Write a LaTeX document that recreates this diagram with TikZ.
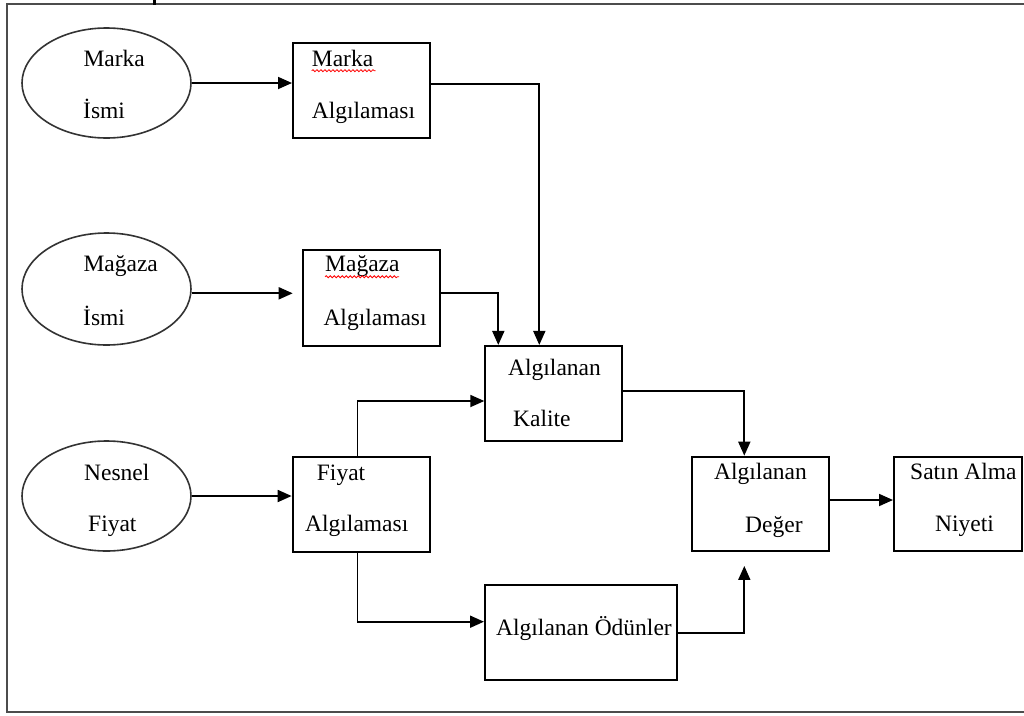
\documentclass[tikz,border=0pt]{standalone}
\usepackage{fontspec}
\setmainfont{Liberation Serif}
\usetikzlibrary{arrows.meta,shapes.geometric,decorations.pathmorphing}
\begin{document}
\begin{tikzpicture}[x=1pt,y=-1pt,
  box/.style={draw=black,line width=2pt,rectangle,inner sep=0pt},
  oval/.style={draw=black!80,line width=1.6pt,ellipse,inner sep=0pt,minimum width=169pt,minimum height=110pt},
  lbl/.style={anchor=base west,inner sep=0pt,font=\fontsize{23.5}{28}\selectfont},
  arr/.style={line width=1.8pt,-{Triangle[length=14pt,width=12pt]}},
  spell/.style={draw=red,line width=0.8pt,decorate,decoration={snake,segment length=4pt,amplitude=1pt}},
  frame/.style={draw=black!70,line width=2.2pt}]
\useasboundingbox (0,0) rectangle (1024,715);

% outer frame (open on the right) and the small mark on its top edge
\draw[frame] (1024,4) -- (7,4) -- (7,711.7) -- (1024,711.7);
\fill[black] (153,0) rectangle (156,5);

% source ovals
\node[oval] (e1) at (106.5,83) {};
\node[oval,minimum height=112pt] (e2) at (106.5,289) {};
\node[oval] (e3) at (106.5,496) {};

% boxes
\node[box,minimum width=137pt,minimum height=95pt] (mA) at (361.5,90.5) {};
\node[box,minimum width=137pt,minimum height=95.7pt] (gA) at (371.5,297.8) {};
\node[box,minimum width=137.3pt,minimum height=95pt] (fA) at (361.3,504.2) {};
\node[box,minimum width=137pt,minimum height=94.7pt] (kal) at (553.8,393.3) {};
\node[box,minimum width=192pt,minimum height=94.5pt] (odu) at (581,632.7) {};
\node[box,minimum width=136.7pt,minimum height=94.3pt] (deg) at (760.3,503.8) {};
\node[box,minimum width=128pt,minimum height=94.3pt] (sat) at (958,503.8) {};

% labels
\node[lbl] (t1a) at (83.3,66.7) {Marka};
\node[lbl] (t1b) at (83,118) {İsmi};
\node[lbl] (t2a) at (311.7,66.7) {Marka};
\node[lbl] (t2b) at (311.7,118.3) {Algılaması};
\node[lbl] (t3a) at (83.3,271.7) {Mağaza};
\node[lbl] (t3b) at (83,325) {İsmi};
\node[lbl] (t4a) at (325,271.7) {Mağaza};
\node[lbl] (t4b) at (323.3,325) {Algılaması};
\node[lbl] (t5a) at (508,375) {Algılanan};
\node[lbl] (t5b) at (513,426.7) {Kalite};
\node[lbl] (t6a) at (84,480) {Nesnel};
\node[lbl] (t6b) at (88,531.7) {Fiyat};
\node[lbl] (t7a) at (316.7,480) {Fiyat};
\node[lbl] (t7b) at (305,531.7) {Algılaması};
\node[lbl] (t8a) at (714,479) {Algılanan};
\node[lbl] (t8b) at (745,532) {Değer};
\node[lbl] (t9a) at (910,479) {Satın Alma};
\node[lbl] (t9b) at (935,531.7) {Niyeti};
\node[lbl] (t10) at (496,635) {Algılanan Ödünler};

% spell-check underlines
\draw[spell] (t2a.base west) ++(0,4) -- ++(64,0);
\draw[spell] (t4a.base west) ++(0,5) -- ++(74,0);

% connectors
\coordinate (g2in) at (292.7,293.3);
\draw[arr] (e1.east) -- (e1.east -| mA.west);
\draw[arr] (e2.east |- g2in) -- (g2in);
\draw[arr] (e3.east) -- (e3.east -| fA.west);
\draw[arr] ([yshift=6.5pt]mA.east) -| ([xshift=-14.5pt]kal.north);
\draw[arr] ([yshift=4.5pt]gA.east) -| ([xshift=-55.5pt]kal.north);
\draw[arr] ([xshift=-3.8pt]fA.north) |- ([yshift=-7.7pt]kal.west);
\draw[arr] ([xshift=-3.8pt]fA.south) |- ([yshift=11pt]odu.west);
\draw[arr] ([yshift=2.3pt]kal.east) -| ([xshift=-16pt]deg.north);
\draw[arr] (odu.east) -| ([xshift=-16pt,yshift=-14pt]deg.south);
\draw[arr] ([yshift=3.8pt]deg.east) -- ([yshift=3.8pt]sat.west);
\end{tikzpicture}
\end{document}
